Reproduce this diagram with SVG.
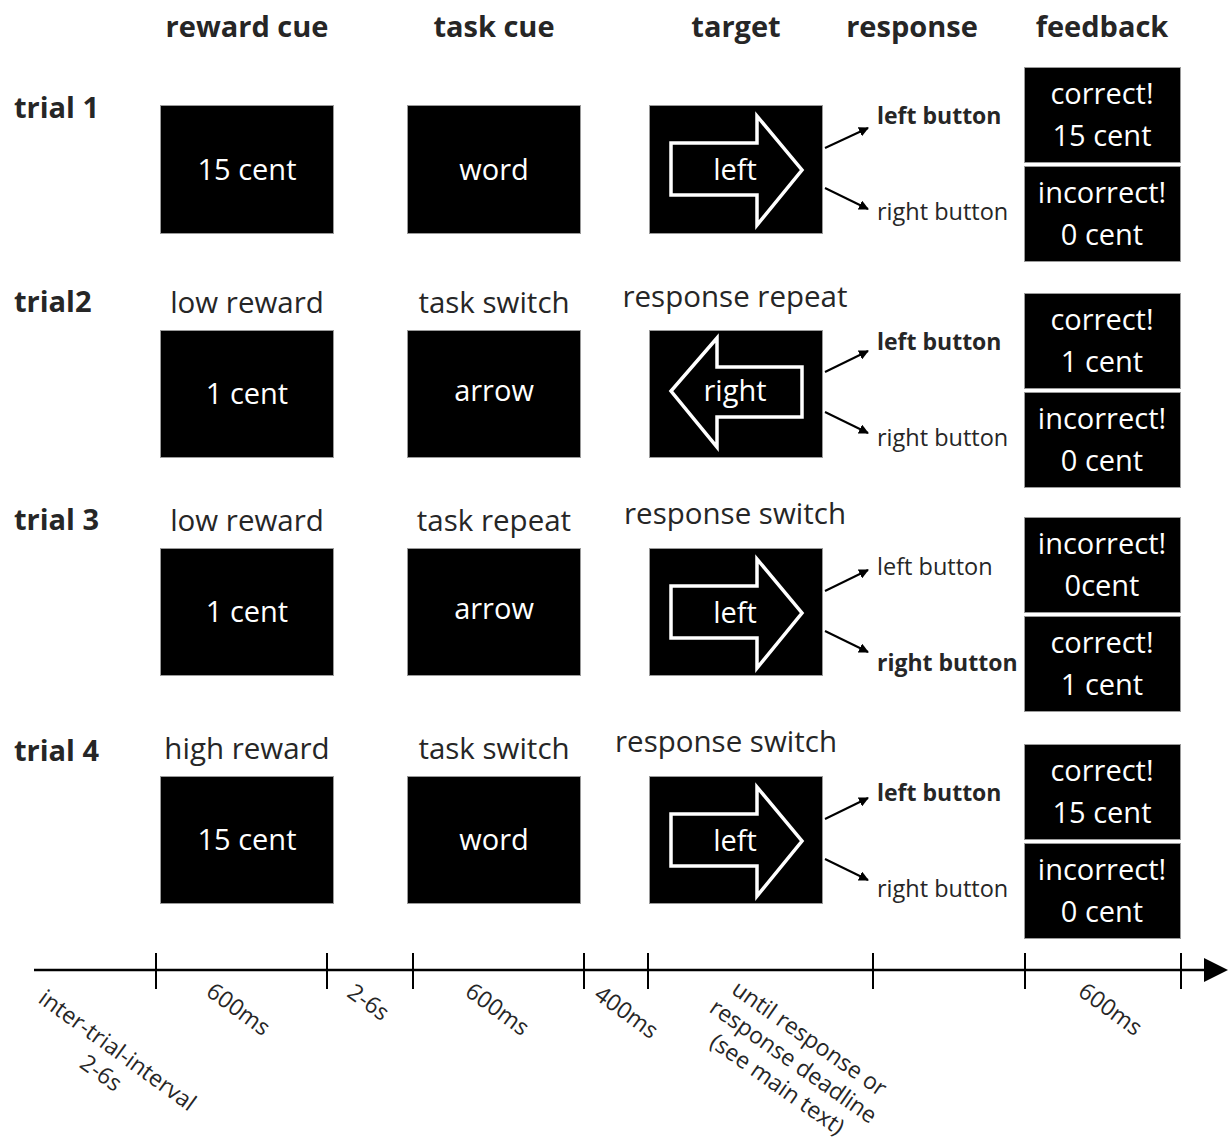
<svg xmlns="http://www.w3.org/2000/svg" width="1228" height="1141" viewBox="0 0 1228 1141">
<defs>
<style>
text{font-family:"Open Sans","Noto Sans","DejaVu Sans",sans-serif;fill:#262626}
.hd{font-size:29px;font-weight:bold;text-anchor:middle}
.tr{font-size:29px;font-weight:bold}
.lb{font-size:29.5px;text-anchor:middle}
.box{fill:#000;stroke:#9a9a9a;stroke-width:1}
.bt{fill:#fff;font-size:29px;text-anchor:middle}
.shape{fill:none;stroke:#fff;stroke-width:3.5;stroke-linejoin:miter}
.rb{font-size:23px;font-weight:bold}
.rn{font-size:23.5px}
.conn{stroke:#000;stroke-width:2;fill:none}
.tl{font-size:23px;text-anchor:middle}
</style>
<marker id="ah" viewBox="0 0 10 10" refX="9" refY="5" markerWidth="10" markerHeight="10" markerUnits="userSpaceOnUse" orient="auto"><path d="M0,0 L10,5 L0,10 z" fill="#000"/></marker>
</defs>
<rect width="1228" height="1141" fill="#fff"/>
<g id="headers">
<text class="hd" x="247" y="37">reward cue</text>
<text class="hd" x="494" y="37">task cue</text>
<text class="hd" x="736" y="37">target</text>
<text class="hd" x="912" y="37">response</text>
<text class="hd" x="1102" y="37">feedback</text>
</g>
<g id="trial-labels">
<text class="tr" x="14" y="118">trial 1</text>
<text class="tr" x="14" y="312">trial2</text>
<text class="tr" x="14" y="530">trial 3</text>
<text class="tr" x="14" y="761">trial 4</text>
</g>
<g id="condition-labels">
<text class="lb" x="247" y="313">low reward</text>
<text class="lb" x="494" y="313">task switch</text>
<text class="lb" x="735" y="307">response repeat</text>
<text class="lb" x="247" y="531">low reward</text>
<text class="lb" x="494" y="531">task repeat</text>
<text class="lb" x="735" y="524">response switch</text>
<text class="lb" x="247" y="759">high reward</text>
<text class="lb" x="494" y="759">task switch</text>
<text class="lb" x="726" y="752">response switch</text>
</g>
<!-- trial 1 -->
<g id="t1-reward"><rect class="box" x="160.5" y="105.5" width="173" height="128"/><text class="bt" x="247" y="180">15 cent</text></g>
<g id="t1-task"><rect class="box" x="407.5" y="105.5" width="173" height="128"/><text class="bt" x="494" y="180">word</text></g>
<g id="t1-target"><rect class="box" x="649.5" y="105.5" width="173" height="128"/><path class="shape" d="M671,143 H757 V116 L802,170 L757,225 V195 H671 Z"/><text class="bt" x="735" y="180">left</text></g>
<g id="t1-response"><text class="rb" x="877" y="124">left button</text><text class="rn" x="877" y="220">right button</text></g>
<g id="t1-feedback"><rect class="box" x="1024.5" y="67.5" width="156" height="95"/><text class="bt" x="1102" y="104">correct!</text><text class="bt" x="1102" y="146">15 cent</text><rect class="box" x="1024.5" y="166.5" width="156" height="95"/><text class="bt" x="1102" y="203">incorrect!</text><text class="bt" x="1102" y="245">0 cent</text></g>
<!-- trial 2 -->
<g id="t2-reward"><rect class="box" x="160.5" y="330.5" width="173" height="127"/><text class="bt" x="247" y="404">1 cent</text></g>
<g id="t2-task"><rect class="box" x="407.5" y="330.5" width="173" height="127"/><text class="bt" x="494" y="401">arrow</text></g>
<g id="t2-target"><rect class="box" x="649.5" y="330.5" width="173" height="127"/><path class="shape" d="M802,367 H717 V338 L671,391 L717,447 V417 H802 Z"/><text class="bt" x="735" y="401">right</text></g>
<g id="t2-response"><text class="rb" x="877" y="350">left button</text><text class="rn" x="877" y="446">right button</text></g>
<g id="t2-feedback"><rect class="box" x="1024.5" y="293.5" width="156" height="95"/><text class="bt" x="1102" y="330">correct!</text><text class="bt" x="1102" y="372">1 cent</text><rect class="box" x="1024.5" y="392.5" width="156" height="95"/><text class="bt" x="1102" y="429">incorrect!</text><text class="bt" x="1102" y="471">0 cent</text></g>
<!-- trial 3 -->
<g id="t3-reward"><rect class="box" x="160.5" y="548.5" width="173" height="127"/><text class="bt" x="247" y="622">1 cent</text></g>
<g id="t3-task"><rect class="box" x="407.5" y="548.5" width="173" height="127"/><text class="bt" x="494" y="619">arrow</text></g>
<g id="t3-target"><rect class="box" x="649.5" y="548.5" width="173" height="127"/><path class="shape" d="M671,586 H757 V559 L802,613 L757,668 V638 H671 Z"/><text class="bt" x="735" y="623">left</text></g>
<g id="t3-response"><text class="rn" x="877" y="575">left button</text><text class="rb" x="877" y="671">right button</text></g>
<g id="t3-feedback"><rect class="box" x="1024.5" y="517.5" width="156" height="95"/><text class="bt" x="1102" y="554">incorrect!</text><text class="bt" x="1102" y="596">0cent</text><rect class="box" x="1024.5" y="616.5" width="156" height="95"/><text class="bt" x="1102" y="653">correct!</text><text class="bt" x="1102" y="695">1 cent</text></g>
<!-- trial 4 -->
<g id="t4-reward"><rect class="box" x="160.5" y="776.5" width="173" height="127"/><text class="bt" x="247" y="850">15 cent</text></g>
<g id="t4-task"><rect class="box" x="407.5" y="776.5" width="173" height="127"/><text class="bt" x="494" y="850">word</text></g>
<g id="t4-target"><rect class="box" x="649.5" y="776.5" width="173" height="127"/><path class="shape" d="M671,814 H757 V787 L802,841 L757,896 V866 H671 Z"/><text class="bt" x="735" y="851">left</text></g>
<g id="t4-response"><text class="rb" x="877" y="801">left button</text><text class="rn" x="877" y="897">right button</text></g>
<g id="t4-feedback"><rect class="box" x="1024.5" y="744.5" width="156" height="95"/><text class="bt" x="1102" y="781">correct!</text><text class="bt" x="1102" y="823">15 cent</text><rect class="box" x="1024.5" y="843.5" width="156" height="95"/><text class="bt" x="1102" y="880">incorrect!</text><text class="bt" x="1102" y="922">0 cent</text></g>
<g id="connectors">
<line class="conn" x1="825" y1="148" x2="868" y2="128" marker-end="url(#ah)"/>
<line class="conn" x1="825" y1="188" x2="868" y2="209" marker-end="url(#ah)"/>
<line class="conn" x1="825" y1="372" x2="868" y2="351" marker-end="url(#ah)"/>
<line class="conn" x1="825" y1="412" x2="868" y2="433" marker-end="url(#ah)"/>
<line class="conn" x1="825" y1="591" x2="868" y2="570" marker-end="url(#ah)"/>
<line class="conn" x1="825" y1="631" x2="868" y2="652" marker-end="url(#ah)"/>
<line class="conn" x1="825" y1="819" x2="868" y2="798" marker-end="url(#ah)"/>
<line class="conn" x1="825" y1="859" x2="868" y2="880" marker-end="url(#ah)"/>
</g>
<g id="timeline">
<line x1="34" y1="970" x2="1208" y2="970" stroke="#000" stroke-width="2.5"/>
<path d="M1204,958 L1228,970 L1204,982 Z" fill="#000"/>
<g stroke="#000" stroke-width="2">
<line x1="156" y1="953" x2="156" y2="989"/>
<line x1="327" y1="953" x2="327" y2="989"/>
<line x1="413" y1="953" x2="413" y2="989"/>
<line x1="584" y1="953" x2="584" y2="989"/>
<line x1="648" y1="953" x2="648" y2="989"/>
<line x1="873" y1="953" x2="873" y2="989"/>
<line x1="1025" y1="953" x2="1025" y2="989"/>
<line x1="1181" y1="953" x2="1181" y2="989"/>
</g>
<text class="tl" transform="translate(117,1051) rotate(36)"><tspan x="0" y="7">inter-trial-interval</tspan><tspan x="0" y="35">2-6s</tspan></text>
<text class="tl" transform="translate(238,1010) rotate(36)" y="7">600ms</text>
<text class="tl" transform="translate(368,1003) rotate(36)" y="7">2-6s</text>
<text class="tl" transform="translate(497,1010) rotate(36)" y="7">600ms</text>
<text class="tl" transform="translate(626,1013) rotate(36)" y="7">400ms</text>
<text class="tl" transform="translate(809,1039) rotate(35)"><tspan x="0" y="7">until response or</tspan><tspan x="0" y="35">response deadline</tspan><tspan x="0" y="63">(see main text)</tspan></text>
<text class="tl" transform="translate(1110,1010) rotate(36)" y="7">600ms</text>
</g>
</svg>
